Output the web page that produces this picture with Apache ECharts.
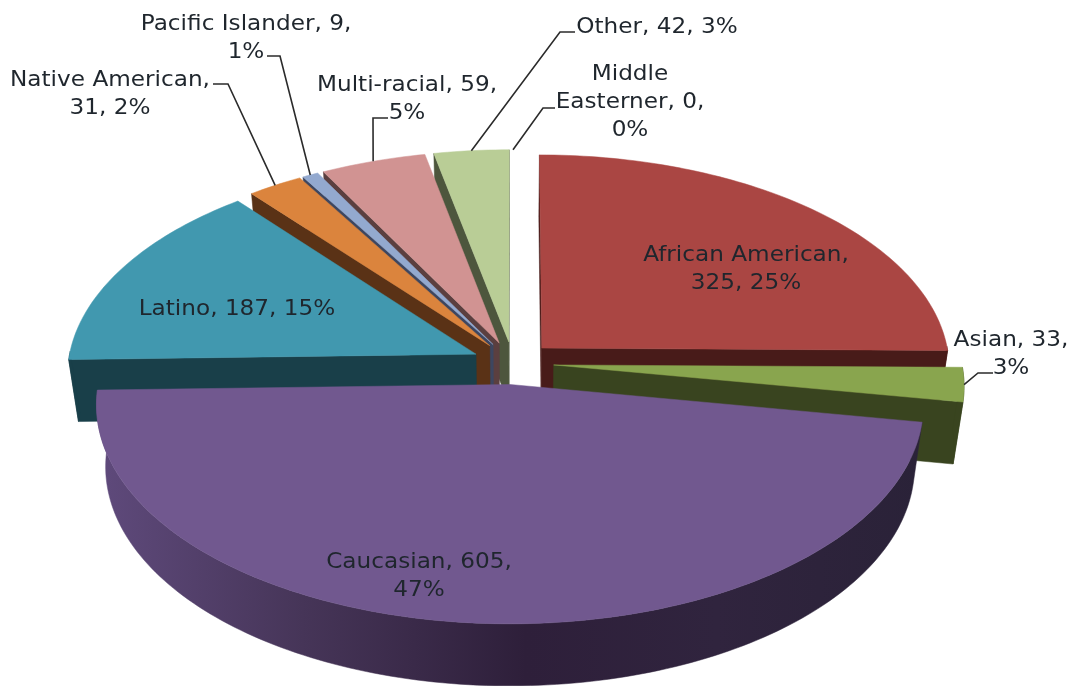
<!DOCTYPE html>
<html>
<head>
<meta charset="utf-8">
<title>Pie</title>
<style>
html, body { margin: 0; padding: 0; background: #fff; }
#chart { width: 1072px; height: 686px; }
</style>
<script src="https://cdn.jsdelivr.net/npm/echarts@6/dist/echarts.min.js"></script>
</head>
<body>
<div id="chart"></div>
<script>
const categories = ['African American', 'Asian', 'Caucasian', 'Latino', 'Native American', 'Pacific Islander', 'Multi-racial', 'Other', 'Middle Easterner'];
const values = [325, 33, 605, 187, 31, 9, 59, 42, 0];
const percents = [25, 3, 47, 15, 2, 1, 5, 3, 0];

// where the label text wraps, per category
const labelLines = [
    ['African American,', '325, 25%'],
    ['Asian, 33,', '3%'],
    ['Caucasian, 605,', '47%'],
    ['Latino, 187, 15%'],
    ['Native American,', '31, 2%'],
    ['Pacific Islander, 9,', '1%'],
    ['Multi-racial, 59,', '5%'],
    ['Other, 42, 3%'],
    ['Middle', 'Easterner, 0,', '0%'],
];

// label centre + elbow of the leader line (none = label sits on its slice)
const labelLayout = [
    { at: [746, 270] },
    { at: [1011, 355], elbow: [[978, 373], [993, 373]] },
    { at: [419, 577] },
    { at: [237, 310] },
    { at: [110, 95], elbow: [[228, 84], [213, 84]] },
    { at: [246, 39], elbow: [[280, 56], [267, 56]] },
    { at: [407, 100], elbow: [[373, 118], [388, 118]] },
    { at: [657, 28], elbow: [[560, 32], [575, 32]] },
    { at: [630, 103], elbow: [[543, 108], [555, 108]] },
];

const topColors = ['#AA4643', '#89A54E', '#71588F', '#4198AF', '#DB843D', '#93A9CF', '#D19392', '#B9CD96', '#A9C3E0'];
const wallColors = ['#481B19', '#39441F', '#2E2238', '#193F49', '#5A3216', '#3D4660', '#5B3F3F', '#4D563D', '#444444'];

// back to front
const drawOrder = [8, 7, 6, 5, 4, 3, 0, 1, 2];

// 3d projection of the disc
const centerX = 513, centerY = 363;
const radiusX = 408, radiusY = 213.4;
const perspective = 0.0912;
const explode = 0.1;
const depth = 62;
const wallShrink = 0.022;
const textStretch = 1.13;

const total = values.reduce((a, b) => a + b, 0);
const slices = [];
let running = 0;
values.forEach((v) => {
    const a0 = echarts.number.linearMap(running, [0, total], [0, Math.PI * 2]);
    running += v;
    const a1 = echarts.number.linearMap(running, [0, total], [0, Math.PI * 2]);
    slices.push({ a0, a1, mid: (a0 + a1) / 2 });
});

function project(u, v, h) {
    const p = 1 / (1 + perspective * v);
    const x = centerX + radiusX * u * p * (1 - wallShrink * h);
    const y = centerY - radiusY * v * p + depth * h;
    return [x, y];
}

function rimPoint(slice, angle, h) {
    const u = Math.sin(angle) + explode * Math.sin(slice.mid);
    const v = Math.cos(angle) + explode * Math.cos(slice.mid);
    return project(u, v, h);
}

function tipPoint(slice, h) {
    return project(explode * Math.sin(slice.mid), explode * Math.cos(slice.mid), h);
}

function arcAngles(slice) {
    const list = [];
    const n = Math.max(2, Math.ceil((slice.a1 - slice.a0) / 0.02));
    for (let i = 0; i <= n; i++) {
        list.push(slice.a0 + (slice.a1 - slice.a0) * i / n);
    }
    return list;
}

function poly(points, fill, z2) {
    return {
        type: 'polygon',
        z2: z2,
        shape: { points: points },
        style: { fill: fill, stroke: fill, lineWidth: 0.5 },
    };
}

function renderSlice(params, api) {
    const i = api.value(0);
    const slice = slices[i];
    if (values[i] === 0) {
        return { type: 'group', children: [] };
    }
    const layer = params.dataIndex * 10;
    const angles = arcAngles(slice);
    const top = angles.map((a) => rimPoint(slice, a, 0));
    const tip = tipPoint(slice, 0);
    const children = [];

    // flat walls along the two cut edges, only the ones facing the viewer
    [[tip, 0, slice.a0], [top[top.length - 1], 1, slice.a1]].forEach((edge) => {
        const startsAtTip = edge[1] === 0;
        const rim = rimPoint(slice, edge[2], 0);
        const from = startsAtTip ? tip : rim;
        const to = startsAtTip ? rim : tip;
        if (to[0] < from[0]) {
            children.push(poly([tip, rim, rimPoint(slice, edge[2], 1), tipPoint(slice, 1)], wallColors[i], layer + 1));
        }
    });

    // curved wall, front half of the rim only
    const front = angles.filter((a) => Math.cos(a) < 0.02);
    if (front.length > 1) {
        const pts = front.map((a) => rimPoint(slice, a, 0))
            .concat(front.slice().reverse().map((a) => rimPoint(slice, a, 1)));
        let fill = wallColors[i];
        if (i === 2) {
            fill = new echarts.graphic.LinearGradient(0, 0, 1, 0, [
                { offset: 0, color: '#5F4A7C' },
                { offset: 0.25, color: '#463558' },
                { offset: 0.52, color: '#2E1F3A' },
                { offset: 0.75, color: '#30243E' },
                { offset: 1, color: '#2A2238' },
            ]);
        }
        children.push(poly(pts, fill, layer + 2));
    }

    children.push(poly([tip].concat(top), topColors[i], layer + 3));
    return { type: 'group', children: children };
}

function renderLabel(params, api) {
    const i = api.value(0);
    const layout = labelLayout[i];
    const children = [];
    if (layout.elbow) {
        const start = rimPoint(slices[i], slices[i].mid, 0);
        children.push({
            type: 'polyline',
            shape: { points: [start].concat(layout.elbow) },
            style: { stroke: '#2b2b2b', lineWidth: 1.6, fill: null },
        });
    }
    children.push({
        type: 'text',
        x: layout.at[0],
        y: layout.at[1],
        scaleX: textStretch,
        style: {
            x: 0,
            y: 0,
            text: labelLines[i].join('\n'),
            font: '20.5px "DejaVu Sans"',
            lineHeight: 28,
            fill: '#1f262d',
            align: 'center',
            verticalAlign: 'middle',
        },
    });
    return { type: 'group', children: children };
}

const option = {
    backgroundColor: '#ffffff',
    animation: false,
    series: [
        {
            type: 'custom',
            name: 'slices',
            coordinateSystem: 'none',
            silent: true,
            renderItem: renderSlice,
            data: drawOrder.map((i) => [i, values[i]]),
            z: 1,
        },
        {
            type: 'custom',
            name: 'labels',
            coordinateSystem: 'none',
            silent: true,
            renderItem: renderLabel,
            data: categories.map((c, i) => [i, percents[i]]),
            z: 2,
        },
    ],
};

const chart = echarts.init(document.getElementById('chart'));
chart.setOption(option);
</script>
</body>
</html>
